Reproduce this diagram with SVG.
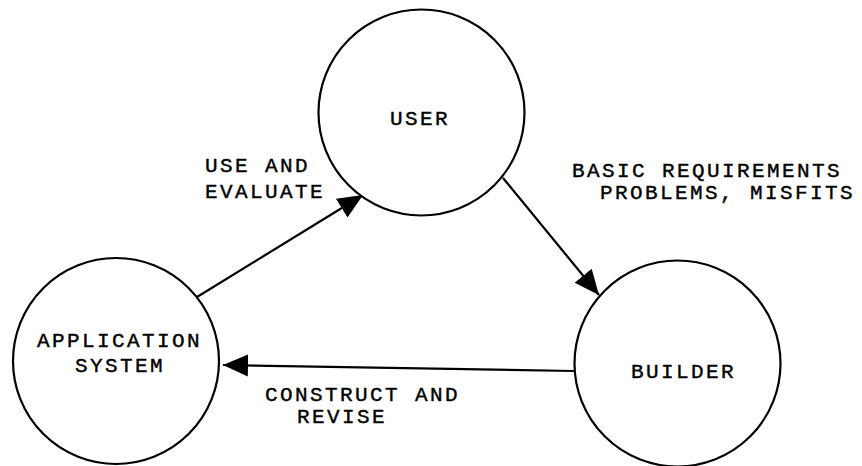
<svg xmlns="http://www.w3.org/2000/svg" width="862" height="466" viewBox="0 0 862 466">
<defs>
<style>
.node{fill:#fff;stroke:#000;stroke-width:2.2}
.lbl{font-family:"Liberation Mono","Courier New",monospace;font-size:21px;letter-spacing:2.4px;fill:#000;stroke:#000;stroke-width:0.4}
.edge{stroke:#000;stroke-width:2.2;fill:none}
</style>
<marker id="arr" markerUnits="userSpaceOnUse" markerWidth="26" markerHeight="24" viewBox="0 0 26 24" refX="25" refY="12" orient="auto">
<path d="M0,1 L25,12 L0,23 z" fill="#000"/>
</marker>
</defs>
<rect width="862" height="466" fill="#fff"/>
<g id="connectors">
<line class="edge" x1="197" y1="297" x2="363" y2="195" marker-end="url(#arr)"/>
<line class="edge" x1="503" y1="178" x2="599" y2="295" marker-end="url(#arr)"/>
<line class="edge" x1="574" y1="371" x2="223" y2="365" marker-end="url(#arr)"/>
<text class="lbl" x="205" y="172">USE AND</text>
<text class="lbl" x="205" y="198">EVALUATE</text>
<text class="lbl" x="572" y="177">BASIC REQUIREMENTS</text>
<text class="lbl" x="600" y="199">PROBLEMS, MISFITS</text>
<text class="lbl" x="265" y="401">CONSTRUCT AND</text>
<text class="lbl" x="297" y="423">REVISE</text>
</g>
<g id="user">
<circle class="node" cx="421.5" cy="112.5" r="103"/>
<text class="lbl" x="390" y="125">USER</text>
</g>
<g id="application-system">
<circle class="node" cx="116" cy="361" r="103"/>
<text class="lbl" x="37" y="347">APPLICATION</text>
<text class="lbl" x="75" y="372">SYSTEM</text>
</g>
<g id="builder">
<circle class="node" cx="677.5" cy="363.5" r="103"/>
<text class="lbl" x="631" y="378">BUILDER</text>
</g>
</svg>
